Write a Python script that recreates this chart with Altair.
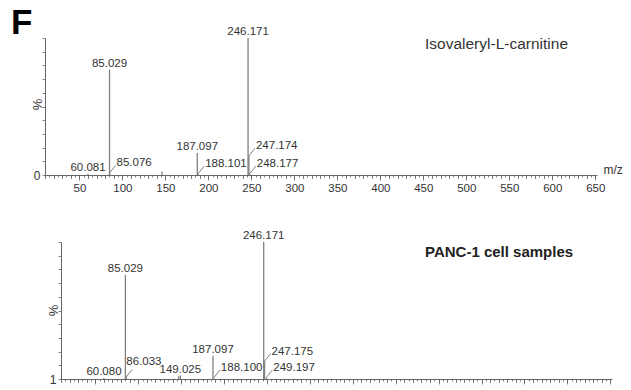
import altair as alt
import pandas as pd

# ---- data ----
# Top panel: Isovaleryl-L-carnitine standard
top_mz = [60.081, 85.029, 85.076, 146.0, 187.097, 188.101, 246.171, 247.174, 248.177]
top_int = [1.0, 77.0, 1.5, 2.5, 16.0, 1.0, 100.0, 14.0, 1.0]
top_labels = ["60.081", "85.029", "85.076", "", "187.097", "188.101", "246.171", "247.174", "248.177"]
top_kind = ["above", "above", "leader", "none", "above", "leader", "above", "leader", "leader"]

# Bottom panel: PANC-1 cell samples
bot_mz = [60.080, 85.029, 86.033, 147.0, 149.025, 187.097, 188.100, 246.171, 247.175, 249.197]
bot_int = [0.8, 76.0, 1.5, 2.0, 2.5, 17.0, 1.0, 100.0, 13.0, 1.0]
bot_labels = ["60.080", "85.029", "86.033", "", "149.025", "187.097", "188.100", "246.171", "247.175", "249.197"]
bot_kind = ["above", "above", "leaderup", "none", "above", "above", "leader", "above", "leader", "leader"]

x_major_ticks = list(range(50, 651, 50))
x_mid_ticks = list(range(10, 651, 10))
x_minor_ticks = list(range(10, 651, 5))
y_tick_values = list(range(0, 101, 10))
top_zero_label = "0"
bot_zero_label = "1"
top_title = "Isovaleryl-L-carnitine"
bot_title = "PANC-1 cell samples"
panel_letter = "F"
x_axis_title = "m/z"

W, H = 631, 390
FONT = "Liberation Sans"
LINE = "#808080"
AXIS = "#666666"
TEXT = "#333333"
LEAD_DMZ = 7.0    # leader line run (m/z units)
LEAD_DPCT = 5.5   # leader line rise (% units)
X_DOMAIN = [10, 652]


def make_df(mz, inten, labels, kind):
    df = pd.DataFrame({"mz": mz, "inten": inten, "label": labels, "kind": kind})
    df["base"] = 0.0
    df["lx"] = df["mz"] + LEAD_DMZ
    df["ly"] = df["inten"] + LEAD_DPCT
    return df


def panel_layers(df, xrange, yrange, x_offset, y_offset, zero_label, show_xlabels, title_y_px, xtitle):
    def xs():
        return alt.Scale(domain=X_DOMAIN, range=xrange, nice=False, zero=False)

    def ys():
        return alt.Scale(domain=[0, 100], range=yrange, nice=False, zero=False)

    if xtitle:
        title_opts = dict(title=xtitle, titleX=603, titleY=-6, titleAlign="left",
                          titleBaseline="middle", titleFont=FONT, titleFontSize=12,
                          titleFontWeight="normal", titleColor=TEXT)
    else:
        title_opts = dict(title=None)
    xaxis = alt.Axis(
        orient="bottom", offset=x_offset, values=x_major_ticks,
        labels=show_xlabels, labelOverlap=False, labelFlush=False,
        labelFont=FONT, labelFontSize=11.5, labelColor=TEXT, labelPadding=2,
        tickSize=5, tickColor=AXIS, domainColor=AXIS, tickWidth=0.8, domainWidth=1,
        grid=False, **title_opts,
    )
    yaxis = alt.Axis(
        orient="left", offset=y_offset, values=y_tick_values,
        labelExpr=f"datum.value === 0 ? '{zero_label}' : ''",
        labelFont=FONT, labelFontSize=12, labelColor=TEXT, labelPadding=2,
        labelOverlap=False, tickSize=3, tickColor=AXIS, domainColor=AXIS,
        tickWidth=0.8, domainWidth=1, grid=False,
        title="%", titleX=-8, titleY=title_y_px, titleAngle=270,
        titleAlign="center", titleBaseline="middle",
        titleFont=FONT, titleFontSize=13, titleFontWeight="normal", titleColor=TEXT,
    )
    base = alt.Chart(df)
    peaks = base.mark_rule(color=LINE, strokeWidth=1.3).encode(
        x=alt.X("mz:Q", scale=xs(), axis=xaxis),
        y=alt.Y("inten:Q", scale=ys(), axis=yaxis),
        y2="base:Q",
    )
    leaders = base.transform_filter("datum.kind === 'leader' || datum.kind === 'leaderup'").mark_rule(
        color=LINE, strokeWidth=1).encode(
        x=alt.X("mz:Q", scale=xs(), axis=None), y=alt.Y("inten:Q", scale=ys(), axis=None),
        x2="lx:Q", y2="ly:Q",
    )
    above = base.transform_filter("datum.kind === 'above'").mark_text(
        font=FONT, fontSize=11.5, color=TEXT, align="center", baseline="alphabetic", dy=-3).encode(
        x=alt.X("mz:Q", scale=xs(), axis=None), y=alt.Y("inten:Q", scale=ys(), axis=None),
        text="label:N",
    )
    leader_text = base.transform_filter("datum.kind === 'leader'").mark_text(
        font=FONT, fontSize=11.5, color=TEXT, align="left", baseline="alphabetic", dx=1, dy=1).encode(
        x=alt.X("lx:Q", scale=xs(), axis=None), y=alt.Y("ly:Q", scale=ys(), axis=None),
        text="label:N",
    )
    leaderup_text = base.transform_filter("datum.kind === 'leaderup'").mark_text(
        font=FONT, fontSize=11.5, color=TEXT, align="left", baseline="alphabetic", dx=0, dy=-4).encode(
        x=alt.X("mz:Q", scale=xs(), axis=None), y=alt.Y("ly:Q", scale=ys(), axis=None),
        text="label:N",
    )

    def tick_layer(values, size):
        ax = alt.Axis(orient="bottom", offset=x_offset, values=values, labels=False,
                      domain=False, tickSize=size, tickColor=AXIS, tickWidth=0.8,
                      grid=False, title=None)
        return base.mark_rule(strokeOpacity=0).encode(x=alt.X("mz:Q", scale=xs(), axis=ax))

    return [peaks, leaders, above, leader_text, leaderup_text,
            tick_layer(x_mid_ticks, 3.5), tick_layer(x_minor_ticks, 2)]


top_df = make_df(top_mz, top_int, top_labels, top_kind)
bot_df = make_df(bot_mz, bot_int, bot_labels, bot_kind)

top_layers = panel_layers(top_df, [45, 597], [175, 38], 175 - H, -45, top_zero_label, True, 104, x_axis_title)
bot_layers = panel_layers(bot_df, [61, 612], [379, 242], 379 - H, -61, bot_zero_label, False, 310, None)

t1 = alt.Chart(pd.DataFrame({"t": [top_title]})).mark_text(
    font=FONT, fontSize=15.5, color=TEXT, align="left", baseline="middle").encode(
    x=alt.value(425), y=alt.value(44), text="t:N")
t2 = alt.Chart(pd.DataFrame({"t": [bot_title]})).mark_text(
    font=FONT, fontSize=15, fontWeight="bold", color="#222222", align="left",
    baseline="middle").encode(x=alt.value(425), y=alt.value(252), text="t:N")
letter = alt.Chart(pd.DataFrame({"t": [panel_letter]})).mark_text(
    font=FONT, fontSize=35, fontWeight="bold", color="#000000", align="left",
    baseline="alphabetic").encode(x=alt.value(11), y=alt.value(34), text="t:N")

chart = alt.layer(*top_layers, *bot_layers, t1, t2, letter).resolve_scale(
    x="independent", y="independent"
).properties(
    width=W, height=H, autosize=alt.AutoSizeParams(type="none"), padding=0,
    background="white",
).configure_view(strokeWidth=0)

chart.save("out.html", embed_options={"renderer": "svg", "actions": False})
